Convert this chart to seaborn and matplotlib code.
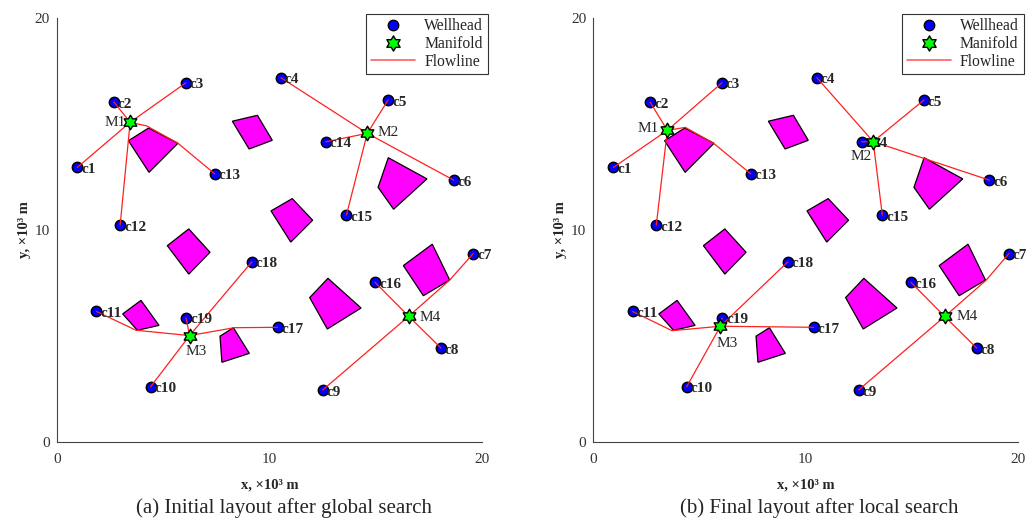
import numpy as np
import pandas as pd
import matplotlib
matplotlib.use("Agg")
import matplotlib.pyplot as plt
from matplotlib.path import Path
from matplotlib.lines import Line2D
import seaborn as sns

# ---------------- data ----------------
well_names = [f"c{i}" for i in range(1, 20)]
well_x = [0.95, 2.68, 6.06, 10.54, 15.58, 18.67, 19.58, 18.07, 12.50, 4.40,
          1.85, 2.97, 7.42, 12.65, 13.62, 14.97, 10.38, 9.17, 6.07]
well_y = [12.95, 16.03, 16.94, 17.18, 16.13, 12.35, 8.88, 4.43, 2.45, 2.60,
          6.16, 10.23, 12.65, 14.16, 10.70, 7.53, 5.41, 8.50, 5.86]
# manifold serving each well (0-based: M1..M4)
well_manifold = [0, 0, 0, 1, 1, 1, 3, 3, 3, 2, 2, 0, 0, 1, 1, 3, 2, 2, 2]

manifold_names = ["M1", "M2", "M3", "M4"]
initial_mx = [3.44, 14.60, 6.24, 16.55]
initial_my = [15.08, 14.56, 5.02, 5.93]
final_mx = [3.49, 13.19, 5.99, 16.56]
final_my = [14.70, 14.17, 5.46, 5.92]

# flowline bend points (from manifold towards well) that route around obstacles
initial_bends = {"c13": [(4.22, 14.91), (5.69, 14.09)], "c11": [(3.72, 5.27)],
                 "c17": [(8.34, 5.39)], "c7": [(18.48, 7.64)]}
final_bends = {"c13": [(4.34, 14.84), (5.68, 14.08)], "c11": [(3.71, 5.25)],
               "c7": [(18.51, 7.63)]}

obstacles = [
    [(3.36, 14.21), (4.31, 14.81), (5.69, 14.09), (4.33, 12.72)],
    [(8.25, 15.13), (9.43, 15.41), (10.13, 14.23), (9.04, 13.82)],
    [(10.07, 10.90), (11.07, 11.48), (12.03, 10.46), (11.00, 9.43)],
    [(15.11, 12.01), (15.59, 13.41), (17.41, 12.41), (15.84, 10.98)],
    [(5.19, 9.26), (6.20, 10.05), (7.20, 8.95), (6.20, 7.92)],
    [(3.09, 6.04), (3.95, 6.68), (4.80, 5.50), (3.78, 5.27)],
    [(7.67, 4.99), (8.30, 5.39), (9.05, 4.18), (7.76, 3.76)],
    [(11.89, 6.81), (12.75, 7.72), (14.31, 6.32), (12.72, 5.33)],
    [(16.30, 8.32), (17.66, 9.33), (18.48, 7.64), (17.24, 6.90)],
]

axis_ticks = [0, 10, 20]
captions = ["(a) Initial layout after global search",
            "(b) Final layout after local search"]

# manifold label placement in pixels (dx, dy, ha)
initial_mlabel = [(-4, 0, "right"), (10, 1, "left"), (7, -16, "center"), (11, -1, "left")]
final_mlabel = [(-9, 2, "right"), (-12, -15, "center"), (7, -17, "center"), (12, 0, "left")]

# ---------------- style ----------------
sns.set_style("white")
plt.rcParams["font.family"] = ["Liberation Serif", "DejaVu Serif"]

# six-pointed star marker
ang_o = np.deg2rad(90 + 60 * np.arange(6))
ang_i = ang_o + np.deg2rad(30)
r_i = 1 / np.sqrt(3)
verts = []
for ao, ai in zip(ang_o, ang_i):
    verts.append((np.cos(ao), np.sin(ao)))
    verts.append((r_i * np.cos(ai), r_i * np.sin(ai)))
verts.append(verts[0])
hexagram = Path(verts, [Path.MOVETO] + [Path.LINETO] * 11 + [Path.CLOSEPOLY])

fig = plt.figure(figsize=(10.35, 5.23), dpi=100)
ax_pos = [[0.0551, 0.1549, 0.4106, 0.8107], [0.5732, 0.1549, 0.4101, 0.8107]]

wells = pd.DataFrame({"name": well_names, "x": well_x, "y": well_y,
                      "m": well_manifold})


def draw_panel(ax, mx, my, bends, mlabel):
    for poly in obstacles:
        ax.fill([p[0] for p in poly], [p[1] for p in poly],
                facecolor="#ff00ff", edgecolor="black", linewidth=0.9, zorder=1)

    sns.scatterplot(data=wells, x="x", y="y", ax=ax, marker="o", s=55,
                    color="#0000ff", edgecolor="black", linewidth=1.1,
                    zorder=2, legend=False)

    rows = []
    for _, w in wells.iterrows():
        pts = [(mx[w.m], my[w.m])] + bends.get(w["name"], []) + [(w.x, w.y)]
        for k, (px, py) in enumerate(pts):
            rows.append({"path": w["name"], "order": k, "x": px, "y": py})
    lines = pd.DataFrame(rows)
    sns.lineplot(data=lines, x="x", y="y", units="path", estimator=None,
                 sort=False, ax=ax, color="#ff2020", linewidth=0.9, zorder=3)

    for _, w in wells.iterrows():
        ax.annotate(w["name"], (w.x, w.y), xytext=(4, -2),
                    textcoords="offset pixels", ha="left", va="center",
                    fontsize=11, fontweight="bold", zorder=3.5)

    mdf = pd.DataFrame({"x": mx, "y": my})
    sns.scatterplot(data=mdf, x="x", y="y", ax=ax, marker=hexagram, s=110,
                    color="#00ff00", edgecolor="black", linewidth=1.0,
                    zorder=4, legend=False)

    for i, name in enumerate(manifold_names):
        dx, dy, ha = mlabel[i]
        ax.annotate(name, (mx[i], my[i]), xytext=(dx, dy),
                    textcoords="offset pixels", ha=ha, va="center",
                    fontsize=11, zorder=5)

    ax.set_xlim(0, 20)
    ax.set_ylim(0, 20)
    ax.set_xticks(axis_ticks)
    ax.set_yticks(axis_ticks)
    for s in ["top", "right"]:
        ax.spines[s].set_visible(False)
    for s in ["left", "bottom"]:
        ax.spines[s].set_color("#444444")
        ax.spines[s].set_linewidth(0.8)
    ax.tick_params(direction="in", length=4, width=0.8, color="#444444",
                   labelsize=11, labelcolor="#333333")
    ax.tick_params(axis="x", pad=8)
    ax.tick_params(axis="y", pad=5)
    ax.set_xlabel("x, ×10³ m", fontsize=10.5, fontweight="bold", labelpad=9)
    ax.set_ylabel("y, ×10³ m", fontsize=10.5, fontweight="bold", labelpad=3)

    handles = [
        Line2D([], [], linestyle="none", marker="o", markersize=7.5,
               markerfacecolor="#0000ff", markeredgecolor="black"),
        Line2D([], [], linestyle="none", marker=hexagram, markersize=11,
               markerfacecolor="#00ff00", markeredgecolor="black"),
        Line2D([], [], color="#ff6060", linewidth=1.2),
    ]
    leg = ax.legend(handles, ["Wellhead", "Manifold", "Flowline"],
                    loc="upper right", bbox_to_anchor=(1.014, 1.01),
                    fontsize=11.3, frameon=True, fancybox=False,
                    edgecolor="#333333", framealpha=1, handlelength=2.8,
                    labelspacing=0.1, borderpad=0.3, handletextpad=0.6,
                    borderaxespad=0)
    leg.get_frame().set_linewidth(0.8)


for i, (mx, my, bends, ml) in enumerate([
        (initial_mx, initial_my, initial_bends, initial_mlabel),
        (final_mx, final_my, final_bends, final_mlabel)]):
    ax = fig.add_axes(ax_pos[i])
    draw_panel(ax, mx, my, bends, ml)
    cx = ax_pos[i][0] + ax_pos[i][2] / 2 + 14 / 1035
    fig.text(cx, 0.029, captions[i], ha="center", va="center", fontsize=15)

fig.savefig("out.png", dpi=100)
